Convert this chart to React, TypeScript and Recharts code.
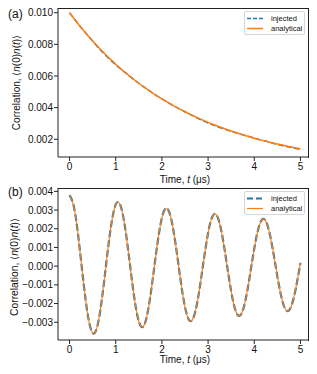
import React from 'react';
import { LineChart, Line, XAxis, YAxis, Label } from 'recharts';

const times = [
  0.0, 0.1, 0.2, 0.3, 0.4, 0.5, 0.6, 0.7, 0.8, 0.9,
  1.0, 1.1, 1.2, 1.3, 1.4, 1.5, 1.6, 1.7, 1.8, 1.9,
  2.0, 2.1, 2.2, 2.3, 2.4, 2.5, 2.6, 2.7, 2.8, 2.9,
  3.0, 3.1, 3.2, 3.3, 3.4, 3.5, 3.6, 3.7, 3.8, 3.9,
  4.0, 4.1, 4.2, 4.3, 4.4, 4.5, 4.6, 4.7, 4.8, 4.9,
  5.0,
];

// Panel (a): decaying correlation
const analyticalA = [
  0.01, 0.009614, 0.009243, 0.008886, 0.008543, 0.008213, 0.007896, 0.007591, 0.007298, 0.007016,
  0.006745, 0.006485, 0.006235, 0.005994, 0.005763, 0.00554, 0.005326, 0.005121, 0.004923, 0.004733,
  0.004551, 0.004375, 0.004206, 0.004044, 0.003888, 0.003738, 0.003593, 0.003455, 0.003321, 0.003193,
  0.00307, 0.002951, 0.002837, 0.002728, 0.002623, 0.002521, 0.002424, 0.002331, 0.002241, 0.002154,
  0.002071, 0.001991, 0.001914, 0.00184, 0.001769, 0.001701, 0.001635, 0.001572, 0.001511, 0.001453,
  0.001397,
];
const injectedA = [
  0.01, 0.009614, 0.009243, 0.008886, 0.008543, 0.008205, 0.00787, 0.00755, 0.00725, 0.00697,
  0.00671, 0.00646, 0.006225, 0.005994, 0.005763, 0.00554, 0.005326, 0.005121, 0.004923, 0.004733,
  0.004551, 0.004375, 0.004206, 0.004044, 0.003888, 0.003738, 0.003593, 0.003445, 0.0033, 0.00316,
  0.00303, 0.00291, 0.0028, 0.0027, 0.0026, 0.0025, 0.00241, 0.002325, 0.002241, 0.002154,
  0.002071, 0.001991, 0.001914, 0.001835, 0.00175, 0.00168, 0.00161, 0.00155, 0.00148, 0.00142,
  0.00135,
];

// Panel (b): oscillating correlation
const analyticalB = [
  0.0038, 0.003109, 0.001361, -0.000821, -0.00268, -0.003579, -0.00323, -0.001775, 0.000263, 0.002171,
  0.003296, 0.003264, 0.002109, 0.00025, -0.001659, -0.00296, -0.003218, -0.002362, -0.00071, 0.001154,
  0.002586, 0.0031, 0.002537, 0.001111, -0.00067, -0.002185, -0.00292, -0.002635, -0.001448, 0.000214,
  0.001771, 0.002688, 0.002662, 0.00172, 0.000204, -0.001353, -0.002415, -0.002624, -0.001927, -0.000579,
  0.000942, 0.00211, 0.002528, 0.002069, 0.000906, -0.000546, -0.001783, -0.002382, -0.002149, -0.001181,
  0.000175,
];
const injectedB = [
  0.0038, 0.003109, 0.001361, -0.000821, -0.00268, -0.003579, -0.00323, -0.001775, 0.000263, 0.002171,
  0.003296, 0.003264, 0.002109, 0.00025, -0.001659, -0.00296, -0.003218, -0.002362, -0.00071, 0.001154,
  0.002586, 0.0031, 0.002537, 0.001111, -0.00067, -0.002185, -0.00292, -0.002635, -0.001448, 0.000214,
  0.001771, 0.002688, 0.002662, 0.00172, 0.000204, -0.001353, -0.002415, -0.002624, -0.001927, -0.000579,
  0.000942, 0.00211, 0.002528, 0.002069, 0.000906, -0.000546, -0.001783, -0.002382, -0.002149, -0.001181,
  0.000175,
];

const xTicks = [0, 1, 2, 3, 4, 5];
const yTicksA = [0.002, 0.004, 0.006, 0.008, 0.01];
const yTicksB = [-0.003, -0.002, -0.001, 0, 0.001, 0.002, 0.003, 0.004];
const seriesNames = ['injected', 'analytical'];

const xDomain: [number, number] = [-0.25, 5.25];
const yDomainA: [number, number] = [0.00088, 0.01055];
const yDomainB: [number, number] = [-0.00395, 0.00418];

const dataA = times.map((t, i) => ({ t, injected: injectedA[i], analytical: analyticalA[i] }));
const dataB = times.map((t, i) => ({ t, injected: injectedB[i], analytical: analyticalB[i] }));

const FONT = '"Liberation Sans", Arial, Helvetica, sans-serif';
const BLUE = '#1f77b4';
const ORANGE = '#ff7f0e';
const AXIS = '#222';

const fmt = (v: number) => {
  const s = Math.abs(v).toFixed(3);
  return v < -1e-12 ? '\u2212' + s : s;
};

const tickStyle = { fontSize: 10, fill: '#111', fontFamily: FONT };

const YTitle = (props: any) => {
  const vb = props.viewBox || {};
  const cy = vb.y + vb.height / 2 + (props.dyc || 0);
  const x = props.xpos;
  return (
    <text
      x={x}
      y={cy}
      transform={`rotate(-90 ${x} ${cy})`}
      textAnchor="middle"
      dominantBaseline="central"
      fontSize={props.fs || 10}
      fill="#111"
      fontFamily={FONT}
    >
      Correlation, {'\u27E8'}
      <tspan fontStyle="italic">n</tspan>(0)<tspan fontStyle="italic">n</tspan>(
      <tspan fontStyle="italic">t</tspan>){'\u27E9'}
    </text>
  );
};

const XTitle = (props: any) => {
  const vb = props.viewBox || {};
  const cx = vb.x + vb.width / 2;
  return (
    <text x={cx} y={props.ypos} textAnchor="middle" fontSize={10} fill="#111" fontFamily={FONT}>
      Time, <tspan fontStyle="italic">t</tspan> ({'\u03BC'}s)
    </text>
  );
};

const LegendBox = ({ top, thickDash }: { top: number; thickDash: boolean }) => (
  <div
    style={{
      position: 'absolute',
      left: 244,
      top,
      width: 61,
      height: 24,
      border: '1px solid #d6d6d6',
      borderRadius: 2,
      background: 'rgba(255,255,255,0.85)',
      fontFamily: FONT,
      fontSize: 7.5,
      color: '#111',
      boxSizing: 'border-box',
      zIndex: 3,
    }}
  >
    {seriesNames.map((name, i) => (
      <div key={name} style={{ position: 'absolute', left: 2, top: 2 + i * 10, height: 9, display: 'flex', alignItems: 'center' }}>
        <svg width={16} height={9} style={{ display: 'block' }}>
          {i === 0 ? (
            <line
              x1={0}
              y1={4.5}
              x2={16}
              y2={4.5}
              stroke={BLUE}
              strokeWidth={thickDash ? 2 : 1.5}
              strokeDasharray={thickDash ? '6 3' : '4 2'}
            />
          ) : (
            <line x1={0} y1={4.5} x2={16} y2={4.5} stroke={ORANGE} strokeWidth={thickDash ? 1.2 : 1.5} />
          )}
        </svg>
        <span style={{ marginLeft: 8, lineHeight: '9px' }}>{name}</span>
      </div>
    ))}
  </div>
);

const PanelLetter = ({ text, top }: { text: string; top: number }) => (
  <div style={{ position: 'absolute', left: 8, top, fontFamily: FONT, fontSize: 12, color: '#111', lineHeight: '12px', zIndex: 3 }}>
    {text}
  </div>
);

// top and right spines (kept inside the page's visible content box)
const Frame = ({ left, top, right, bottom }: { left: number; top: number; right: number; bottom: number }) => (
  <div
    style={{
      position: 'absolute',
      left,
      top,
      width: right - left,
      height: bottom - top,
      borderTop: `1px solid ${AXIS}`,
      borderRight: `1px solid ${AXIS}`,
      boxSizing: 'border-box',
      pointerEvents: 'none',
      zIndex: 2,
    }}
  />
);

export default function App() {
  return (
    <div style={{ position: 'relative', width: 317, height: 374, margin: -8, background: '#fff', overflow: 'hidden' }}>
      <div style={{ position: 'absolute', left: 0, top: 0, zIndex: 1 }}>
        <LineChart width={317} height={185} data={dataA} margin={{ top: 4, right: 5, left: 0, bottom: 0 }}>
          <XAxis
            dataKey="t"
            type="number"
            domain={xDomain}
            ticks={xTicks}
            allowDataOverflow
            tickSize={4}
            tickMargin={2}
            height={28}
            tick={tickStyle}
            tickLine={{ stroke: AXIS }}
            axisLine={{ stroke: AXIS }}
          >
            <Label content={(p: any) => <XTitle {...p} ypos={183} />} />
          </XAxis>
          <YAxis
            type="number"
            domain={yDomainA}
            ticks={yTicksA}
            allowDataOverflow
            tickFormatter={fmt}
            tickSize={4}
            tickMargin={1}
            width={58}
            tick={tickStyle}
            tickLine={{ stroke: AXIS }}
            axisLine={{ stroke: AXIS }}
          >
            <Label content={(p: any) => <YTitle {...p} xpos={16} dyc={2} />} />
          </YAxis>
          <Line
            dataKey="injected"
            type="monotone"
            stroke={BLUE}
            strokeWidth={1.5}
            strokeDasharray="5.5 2.4"
            dot={false}
            isAnimationActive={false}
          />
          <Line dataKey="analytical" type="monotone" stroke={ORANGE} strokeWidth={1.5} dot={false} isAnimationActive={false} />
        </LineChart>
      </div>
      <div style={{ position: 'absolute', left: 0, top: 184, zIndex: 1 }}>
        <LineChart width={317} height={190} data={dataB} margin={{ top: 4, right: 5, left: 0, bottom: 0 }}>
          <XAxis
            dataKey="t"
            type="number"
            domain={xDomain}
            ticks={xTicks}
            allowDataOverflow
            tickSize={4}
            tickMargin={2}
            height={34}
            tick={tickStyle}
            tickLine={{ stroke: AXIS }}
            axisLine={{ stroke: AXIS }}
          >
            <Label content={(p: any) => <XTitle {...p} ypos={179} />} />
          </XAxis>
          <YAxis
            type="number"
            domain={yDomainB}
            ticks={yTicksB}
            allowDataOverflow
            tickFormatter={fmt}
            tickSize={4}
            tickMargin={1}
            width={58}
            tick={tickStyle}
            tickLine={{ stroke: AXIS }}
            axisLine={{ stroke: AXIS }}
          >
            <Label content={(p: any) => <YTitle {...p} xpos={14} dyc={3} fs={10.3} />} />
          </YAxis>
          <Line
            dataKey="injected"
            type="natural"
            stroke={BLUE}
            strokeWidth={2.2}
            strokeDasharray="7 3"
            dot={false}
            isAnimationActive={false}
          />
          <Line dataKey="analytical" type="natural" stroke={ORANGE} strokeWidth={1.1} dot={false} isAnimationActive={false} />
        </LineChart>
      </div>
      <Frame left={58} top={8} right={309} bottom={158} />
      <Frame left={58} top={188} right={309} bottom={341} />
      <LegendBox top={11} thickDash={false} />
      <LegendBox top={191} thickDash={true} />
      <PanelLetter text="(a)" top={8} />
      <PanelLetter text="(b)" top={186} />
    </div>
  );
}
